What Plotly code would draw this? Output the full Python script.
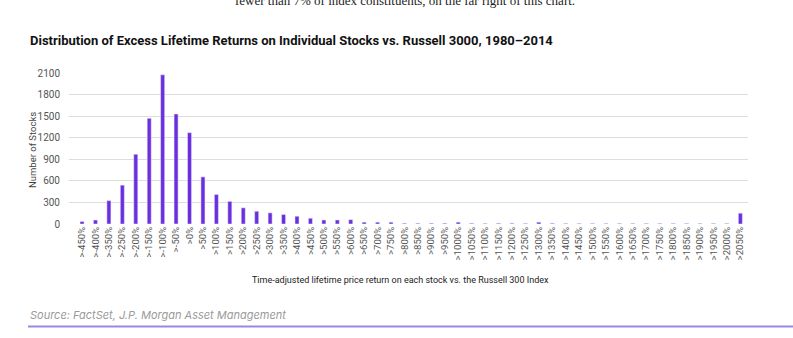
import plotly.graph_objects as go

categories = [">-450%", ">-400%", ">-350%", ">-250%", ">-200%", ">-150%", ">-100%", ">-50%", ">0%",
              ">50%", ">100%", ">150%", ">200%", ">250%", ">300%", ">350%", ">400%", ">450%", ">500%",
              ">550%", ">600%", ">650%", ">700%", ">750%", ">800%", ">850%", ">900%", ">950%", ">1000%",
              ">1050%", ">1100%", ">1150%", ">1200%", ">1250%", ">1300%", ">1350%", ">1400%", ">1450%",
              ">1500%", ">1550%", ">1600%", ">1650%", ">1700%", ">1750%", ">1800%", ">1850%", ">1900%",
              ">1950%", ">2000%", ">2050%"]
stocks = [35, 55, 325, 540, 970, 1470, 2075, 1530, 1270,
          655, 410, 315, 225, 177, 155, 132, 108, 80, 56,
          56, 60, 25, 25, 25, 10, 10, 10, 10, 25,
          10, 8, 10, 10, 8, 25, 10, 8, 8,
          8, 8, 8, 8, 8, 8, 8, 8, 8,
          8, 8, 150]
y_ticks = [0, 300, 600, 900, 1200, 1500, 1800, 2100]

FONT = "Roboto"
BAR = "#6B2FE0"

fig = go.Figure(go.Bar(x=categories, y=stocks, marker_color=BAR, width=0.3))

W, H = 793, 338
ml, mr, mt, mb = 69, 45, 73, 114
ph = H - mt - mb

def py(pix):
    return (H - mb - pix) / ph

def px(pix):
    return (pix - ml) / (W - ml - mr)

fig.update_layout(
    width=W, height=H,
    margin=dict(l=ml, r=mr, t=mt, b=mb),
    paper_bgcolor="white", plot_bgcolor="white",
    showlegend=False,
    font=dict(family=FONT, size=9, color="#555555"),
    xaxis=dict(type="category", range=[-0.97, 49.57], tickangle=-90,
               tickfont=dict(family=FONT, size=9.5, color="#555555"), showgrid=False,
               showline=False, ticks=""),
    yaxis=dict(range=[0, 2100], tickvals=y_ticks, showgrid=True, gridcolor="#dddddd",
               gridwidth=1, zeroline=False, tickfont=dict(family=FONT, size=10, color="#555555"),
               ticklabelstandoff=8),
    annotations=[
        dict(text="fewer than 7% of index constituents, on the far right of this chart.",
             xref="paper", yref="paper", x=px(233), y=py(10),
             xanchor="left", yanchor="bottom", showarrow=False,
             font=dict(family="Liberation Serif", size=13, color="#222222")),
        dict(text="<b>Distribution of Excess Lifetime Returns on Individual Stocks vs. Russell 3000, 1980\u20132014</b>",
             xref="paper", yref="paper", x=px(28), y=py(40),
             xanchor="left", yanchor="middle", showarrow=False,
             font=dict(family=FONT, size=13, color="#111111")),
        dict(text="Number of Stocks", textangle=-90,
             xref="paper", yref="paper", x=px(32), y=py(150),
             xanchor="center", yanchor="middle", showarrow=False,
             font=dict(family=FONT, size=9.5, color="#444444")),
        dict(text="Time-adjusted lifetime price return on each stock vs. the Russell 300 Index",
             xref="paper", yref="paper", x=px(400), y=py(280),
             xanchor="center", yanchor="middle", showarrow=False,
             font=dict(family=FONT, size=9, color="#222222")),
        dict(text="<i>Source: FactSet, J.P. Morgan Asset Management</i>",
             xref="paper", yref="paper", x=px(28), y=py(315),
             xanchor="left", yanchor="middle", showarrow=False,
             font=dict(family="Inter", size=11, color="#9a9a9a")),
    ],
    shapes=[
        dict(type="line", xref="paper", yref="paper",
             x0=px(28), x1=px(W),
             y0=py(326.5), y1=py(326.5), line=dict(color="#9B86E2", width=2)),
    ],
)

fig.write_html("out.html")
